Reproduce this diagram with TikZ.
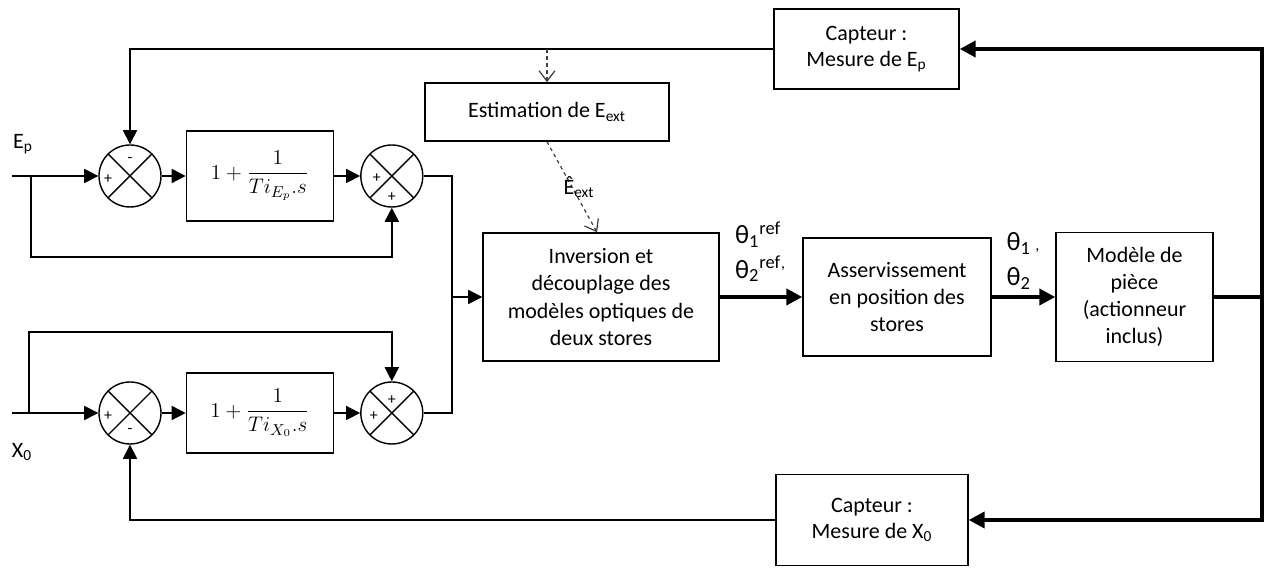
\documentclass[tikz,border=0pt]{standalone}
\usepackage{fontspec}
\setmainfont{Carlito}
\usepackage{amsmath}
\usetikzlibrary{positioning, arrows.meta, calc}
\tikzset{
  block/.style     ={draw, line width=0.8pt, align=center,
                     font=\fontsize{12.5}{15.5}\selectfont, inner sep=2pt},
  pibox/.style     ={block, minimum width=2.94cm},
  capbox/.style    ={block, font=\fontsize{12.5}{14.5}\selectfont},
  sumnode/.style   ={circle, draw, line width=0.8pt, minimum size=1.24cm,
                     inner sep=0pt,
                     path picture={\draw[line width=0.8pt]
                       (path picture bounding box.north west) --
                       (path picture bounding box.south east)
                       (path picture bounding box.north east) --
                       (path picture bounding box.south west);}},
  sign/.style      ={font=\fontsize{9}{9}\selectfont, inner sep=0pt},
  flow/.style      ={-{Triangle[length=8pt, width=8pt]}, line width=0.9pt},
  thinline/.style  ={line width=0.9pt},
  thickflow/.style ={-{Triangle[length=9pt, width=9pt]}, line width=2.4pt},
  thickline/.style ={line width=2.6pt},
  dashedflow/.style={-{Straight Barb[length=6pt, width=9pt]},
                     dash pattern=on 2pt off 2pt,
                     line width=0.7pt, draw=black!75},
  lbl/.style       ={font=\fontsize{12.5}{15.5}\selectfont, align=left,
                     inner sep=0pt},
  thlbl/.style     ={font=\fontsize{15}{19.5}\selectfont, align=left,
                     inner sep=0pt},
}

\begin{document}
\begin{tikzpicture}

  \useasboundingbox (0,0) rectangle (25.32,11.44);

  % ============================================================
  % UPPER LOOP: E_p
  % ============================================================
  \node[sumnode] (s1) at (2.6,7.92) {};
  \node[pibox, right=0.48cm of s1, minimum height=1.8cm] (pi1)
    {$1+\dfrac{1}{Ti_{E_p}.s}$};
  \node[sumnode, right=0.52cm of pi1] (s2) {};

  \node[sign] at ($(s1.center)+(-0.44,-0.06)$) {+};
  \node[sign] at ($(s1.center)+(0,0.32)$) {-};
  \node[sign] at ($(s2.center)+(-0.3,-0.05)$) {+};
  \node[sign] at ($(s2.center)+(0,-0.42)$) {+};

  \node[lbl] (ep) at (0.46,8.56) {E\textsubscript{p}};

  % ============================================================
  % LOWER LOOP: X_0
  % ============================================================
  \node[sumnode] (s3) at (2.6,3.18) {};
  \node[pibox, right=0.48cm of s3, minimum height=1.6cm] (pi2)
    {$1+\dfrac{1}{Ti_{X_0}.s}$};
  \node[sumnode, right=0.52cm of pi2] (s4) {};

  \node[sign] at ($(s3.center)+(-0.44,-0.07)$) {+};
  \node[sign] at ($(s3.center)+(0,-0.36)$) {-};
  \node[sign] at ($(s4.center)+(-0.36,-0.07)$) {+};
  \node[sign] at ($(s4.center)+(0,0.26)$) {+};

  \node[lbl] (x0) at (0.44,2.40) {X\textsubscript{0}};

  % ============================================================
  % MAIN CHAIN
  % ============================================================
  \node[block, minimum width=4.72cm, minimum height=2.56cm] (inv)
    at (12.02,5.5) {Inversion et\\découplage des\\modèles optiques de\\deux stores};
  \node[block, minimum width=3.76cm, minimum height=2.36cm] (asv)
    at (17.94,5.5) {Asservissement\\en position des\\stores};
  \node[block, minimum width=3.14cm, minimum height=2.58cm] (mod)
    at (22.69,5.5) {Modèle de\\pièce\\(actionneur\\inclus)};

  \node[block, minimum width=4.88cm, minimum height=1.16cm] (est)
    at (10.94,9.20) {Estimation de E\textsubscript{ext}};

  \node[capbox, minimum width=3.7cm, minimum height=1.6cm] (capE)
    at (17.33,10.46) {Capteur :\\Mesure de E\textsubscript{p}};
  \node[capbox, minimum width=3.84cm, minimum height=1.82cm] (capX)
    at (17.44,1.04) {Capteur :\\Mesure de X\textsubscript{0}};

  \node[thlbl] (thref) at (15.2,6.40)
    {θ\textsubscript{1}\textsuperscript{ref}\\θ\textsubscript{2}\textsuperscript{ref}\raisebox{0.8ex}{\small,}};
  \node[thlbl] (thpos) at (20.46,6.22)
    {θ\textsubscript{1}\,\small,\\θ\textsubscript{2}};

  % ============================================================
  % ARROWS
  % ============================================================
  \coordinate (in1) at (0.24,7.92);
  \coordinate (br1) at (0.62,7.92);
  \coordinate (lo1) at (0.62,6.30);
  \coordinate (in2) at (0.24,3.18);
  \coordinate (br2) at (0.58,3.18);
  \coordinate (hi2) at (0.58,4.80);
  \coordinate (join) at (9.04,5.5);
  \coordinate (rt) at (25.24,5.5);
  \coordinate (tap) at (est.north |- capE.west);

  % inputs and feed-forward branches
  \draw[flow] (in1) -- (s1);
  \draw[flow] (br1) -- (lo1) -| (s2.south);
  \draw[flow] (in2) -- (s3);
  \draw[flow] (br2) -- (hi2) -| (s4.north);

  \draw[flow] (s1) -- (pi1);
  \draw[flow] (pi1) -- (s2);
  \draw[flow] (s3) -- (pi2);
  \draw[flow] (pi2) -- (s4);

  % both loops join into the inversion block
  \draw[thinline] (s2.east) -| (join);
  \draw[thinline] (s4.east) -| (join);
  \draw[flow] (join) -- (inv.west);

  % main chain
  \draw[thickflow] (inv) -- (asv);
  \draw[thickflow] (asv) -- (mod);
  \draw[thickline] (mod.east) -- (rt);
  \draw[thickflow] (rt) |- (capE.east);
  \draw[thickflow] (rt) |- (capX.east);

  % sensor feedback
  \draw[flow] (capE.west) -| (s1.north);
  \draw[flow] (capX.west) -| (s3.south);

  % estimation branch
  \draw[dashedflow] (tap) -- (est.north);
  \draw[dashedflow] (est.south) -- ([xshift=-0.08cm]inv.north)
       node[pos=0.5, xshift=0.14cm, lbl] {Ê\textsubscript{ext}};

\end{tikzpicture}
\end{document}
